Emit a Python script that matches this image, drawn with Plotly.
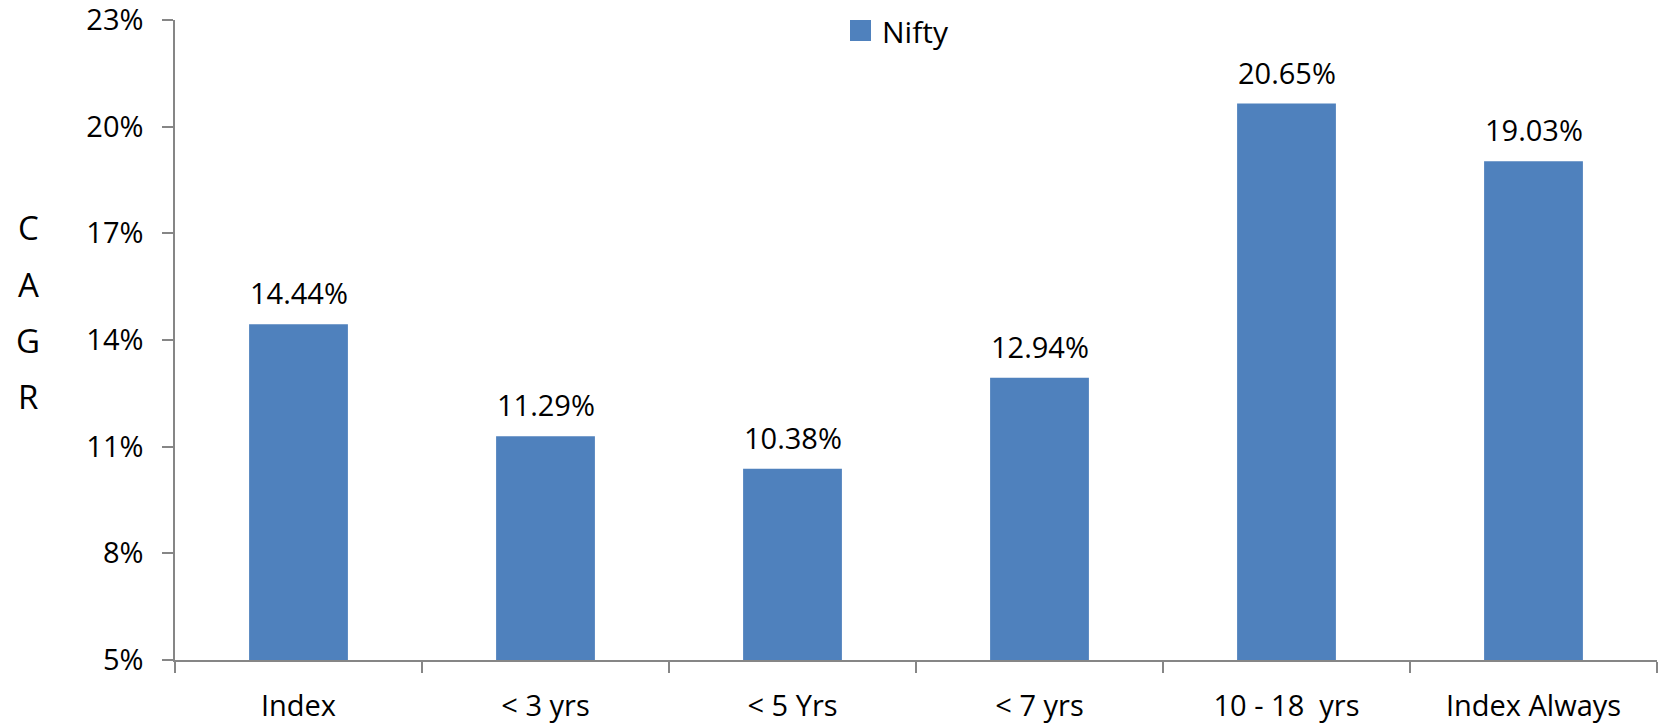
import plotly.graph_objects as go

categories = ["Index", "< 3 yrs", "< 5 Yrs", "< 7 yrs", "10 - 18  yrs", "Index Always"]
nifty = [14.44, 11.29, 10.38, 12.94, 20.65, 19.03]
y_ticks = [5, 8, 11, 14, 17, 20, 23]
y_title_letters = ["C", "A", "G", "R"]
series_name = "Nifty"

FONT = "Open Sans"
BAR = "#4F81BD"
AX = "#868686"

# plot area in page pixels
PL, PR, PT, PB = 175, 1657, 20, 660
W, H = 1660, 724


def px(x):
    return (x - PL) / (PR - PL)


def py(y):
    return (PB - y) / (PB - PT)


fig = go.Figure()
fig.add_trace(go.Bar(
    x=categories, y=nifty, name=series_name,
    marker=dict(color=BAR, line=dict(width=0)),
    showlegend=False,
))
for c, v in zip(categories, nifty):
    fig.add_annotation(x=c, y=v, text=f"{v:.2f}%", showarrow=False,
                       xanchor="center", yanchor="bottom", yshift=10,
                       font=dict(family=FONT, size=29, color="black"))
# legend (square swatch + label)
fig.add_shape(type="rect", xref="paper", yref="paper",
              x0=px(850), x1=px(871), y0=py(41), y1=py(20),
              fillcolor=BAR, line=dict(width=0))
fig.add_annotation(text=series_name, xref="paper", yref="paper",
                   x=px(880), y=py(31), xanchor="left", yanchor="middle",
                   showarrow=False, font=dict(family=FONT, size=30, color="black"))
fig.update_layout(
    width=W, height=H,
    margin=dict(l=PL, r=W - PR, t=PT, b=H - PB, autoexpand=False),
    paper_bgcolor="white", plot_bgcolor="white",
    bargap=0.6,
    showlegend=False,
    font=dict(family=FONT, size=29, color="black"),
)
fig.update_xaxes(
    showline=True, linecolor=AX, linewidth=1.5,
    ticks="outside", ticklen=11, tickcolor=AX, tickwidth=1.5,
    tickson="boundaries", showgrid=False,
    ticklabelstandoff=19,
    tickfont=dict(family=FONT, size=29, color="black"),
)
fig.update_yaxes(
    range=[5, 23], tickvals=y_ticks, ticktext=[f"{t}%" for t in y_ticks],
    showline=True, linecolor=AX, linewidth=1.5,
    ticks="outside", ticklen=11, tickcolor=AX, tickwidth=1.5,
    ticklabelstandoff=13, ticklabeloverflow="allow",
    showgrid=False, zeroline=False,
    tickfont=dict(family=FONT, size=29, color="black"),
)
for i, letter in enumerate(y_title_letters):
    fig.add_annotation(
        text=letter, xref="paper", yref="paper",
        x=px(28), y=py(228 + 56 * i),
        xanchor="center", yanchor="middle", showarrow=False,
        font=dict(family=FONT, size=33, color="black"),
    )
fig.write_html("out.html", config={"displayModeBar": False},
               post_script="document.body.style.margin='0';document.body.style.overflow='hidden';")
